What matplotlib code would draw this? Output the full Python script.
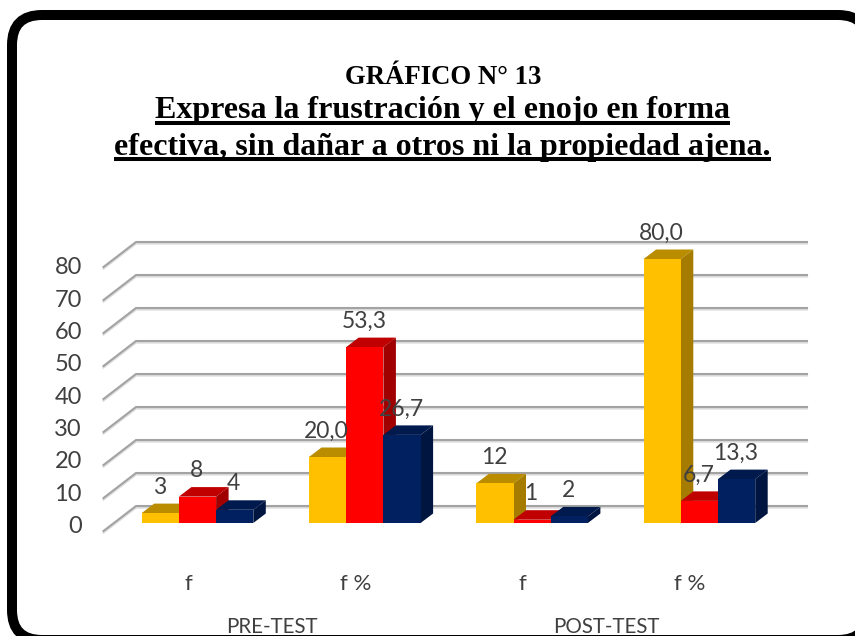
"""
GRAFICO 13 - 3D style clustered bars, pre-test and post-test
"""

import matplotlib
matplotlib.use('Agg')
import matplotlib.pyplot as plt
from matplotlib.patches import FancyBboxPatch, Polygon

categories = ['f', 'f %', 'f', 'f %']
groups = ['PRE-TEST', 'POST-TEST']
yellow_values = [3, 20.0, 12, 80.0]
red_values = [8, 53.3, 1, 6.7]
navy_values = [4, 26.7, 2, 13.3]
yellow_labels = ['3', '20,0', '12', '80,0']
red_labels = ['8', '53,3', '1', '6,7']
navy_labels = ['4', '26,7', '2', '13,3']
y_ticks = [0, 10, 20, 30, 40, 50, 60, 70, 80]

W, H = 855, 636
PX_X = 167.3   # pixels per category
PX_Y = 3.3     # pixels per value unit
BASE_X = 197.5
BASE_Y = 523

BAR_W = 37.2 / PX_X
DX = 12.5 / PX_X
DY = 9.5 / PX_Y

TEXT_COLOR = '#404040'
FONT = 'Lato'


def px_w(p):
    return p / PX_X


def px_h(p):
    return p / PX_Y


def draw_bar(ax, x, value, front, top, side):
    """Front, top and side faces of one fake 3D bar"""
    ax.add_patch(Polygon([(x, value), (x + DX, value + DY), (x + BAR_W + DX, value + DY), (x + BAR_W, value)],
                         facecolor=top, edgecolor='none', zorder=2))
    ax.add_patch(Polygon([(x + BAR_W, 0), (x + BAR_W + DX, DY), (x + BAR_W + DX, value + DY), (x + BAR_W, value)],
                         facecolor=side, edgecolor='none', zorder=2))
    ax.add_patch(Polygon([(x, 0), (x + BAR_W, 0), (x + BAR_W, value), (x, value)],
                         facecolor=front, edgecolor='none', zorder=2))


fig = plt.figure(figsize=(W / 100, H / 100), dpi=100, facecolor='white')

# pixel layer for the frame and the title
bg = fig.add_axes([0, 0, 1, 1])
bg.set_xlim(0, W)
bg.set_ylim(H, 0)
bg.axis('off')

bg.add_patch(FancyBboxPatch((12, 15), 856, 625, boxstyle='round,pad=0,rounding_size=30',
                            facecolor='white', edgecolor='black', linewidth=7.2, clip_on=True))

title_font = 'Liberation Serif'
bg.text(443, 84, 'GRÁFICO N° 13', family=title_font, weight='bold', fontsize=19.3,
        ha='center', va='baseline', color='black')
line1 = bg.text(442, 118, 'Expresa la frustración y el enojo en forma', family=title_font, weight='bold',
                fontsize=23, ha='center', va='baseline', color='black')
line2 = bg.text(442.5, 155, 'efectiva, sin dañar a otros ni la propiedad ajena.', family=title_font, weight='bold',
                fontsize=23, ha='center', va='baseline', color='black')

# underlines follow the measured text width
renderer = fig.canvas.get_renderer()
for t, y in [(line1, 122.7), (line2, 159)]:
    box = t.get_window_extent(renderer)
    bg.plot([box.x0, box.x1], [y, y], color='black', linewidth=2.9, solid_capstyle='butt')

# chart layer, data coordinates: x = category index, y = value
ax = fig.add_axes([0, 0, 1, 1])
ax.patch.set_alpha(0)
ax.set_xlim(-BASE_X / PX_X, (W - BASE_X) / PX_X)
ax.set_ylim((BASE_Y - H) / PX_Y, BASE_Y / PX_Y)
ax.axis('off')

# walls: gridlines on the back plane and the slanted side lines
wing_left = px_w(103.5 - BASE_X)
back_left = px_w(136 - BASE_X)
back_right = px_w(807 - BASE_X)
front_off = px_h(BASE_Y - 531)
back_off = px_h(BASE_Y - 506)
shadow = px_h(-1.6)
for v in y_ticks:
    ax.plot([wing_left, back_left, back_right], [v + front_off + shadow, v + back_off + shadow, v + back_off + shadow],
            color='#dcdcdc', linewidth=1.5, solid_joinstyle='miter', zorder=1)
    ax.plot([wing_left, back_left, back_right], [v + front_off, v + back_off, v + back_off],
            color='#a3a3a3', linewidth=1.5, solid_joinstyle='miter', zorder=1)
    # tick labels are packed a bit tighter than the gridlines
    ax.text(px_w(82 - BASE_X), v * 0.98 + px_h(-3.5), str(v), family=FONT, fontsize=17, color=TEXT_COLOR,
            ha='right', va='center')

series = [
    (yellow_values, yellow_labels, '#FFC000', '#BA8C00', '#A67C00'),
    (red_values, red_labels, '#FF0000', '#C00000', '#A00000'),
    (navy_values, navy_labels, '#002060', '#001A4E', '#001540'),
]

for i in range(len(categories)):
    for j, (values, labels, front, top, side) in enumerate(series):
        x = i + (j - 1.5) * BAR_W
        draw_bar(ax, x, values[i], front, top, side)

# data labels go on top of every bar
for i in range(len(categories)):
    for j, (values, labels, front, top, side) in enumerate(series):
        x = i + (j - 1.5) * BAR_W
        ax.text(x + BAR_W / 2 - px_w(1), values[i] + px_h(26), labels[i], family=FONT, fontsize=16.5,
                color=TEXT_COLOR, ha='center', va='center', zorder=5)

for i, name in enumerate(categories):
    ax.text(i - px_w(9.5), px_h(BASE_Y - 584), name, family=FONT, fontsize=16, color=TEXT_COLOR,
            ha='center', va='center')

for i, name in enumerate(groups):
    ax.text(2 * i + 0.5 - px_w(9.5), px_h(BASE_Y - 627), name, family=FONT, fontsize=14.8, color=TEXT_COLOR,
            ha='center', va='center')

fig.savefig('out.png', dpi=100)
